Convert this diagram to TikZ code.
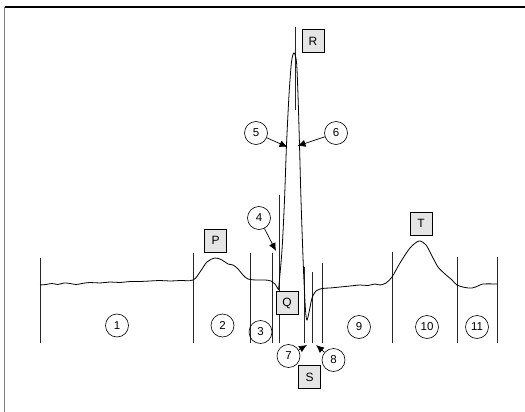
\documentclass[tikz,border=0pt]{standalone}
\usepackage{fontspec}
\setmainfont{Liberation Sans}
\usetikzlibrary{arrows.meta}
\begin{document}
\begin{tikzpicture}[x=1pt,y=-1pt,
  lbl/.style={draw=black,line width=0.6pt,fill=black!10,minimum width=22pt,minimum height=23pt,inner sep=0pt,font=\fontsize{12}{14}\selectfont},
  num/.style={draw=black,line width=0.6pt,circle,minimum size=23pt,inner sep=0pt,font=\fontsize{11.5}{13}\selectfont},
  seg/.style={line width=0.7pt,black!85},
  wave/.style={line width=0.8pt,black},
  pointer/.style={line width=0.7pt,-{Latex[length=8pt,width=7pt]}}]
\useasboundingbox (0,0) rectangle (525,412);
% frame
\draw[line width=1.4pt,black] (4.5,7) -- (525,7);
\draw[line width=1.6pt,black!50] (4.5,7) -- (4.5,412);
% vertical segment lines
\draw[seg] (40,258) -- (40,343);
\draw[seg] (193,253) -- (193,343);
\draw[seg] (250,253) -- (250,343);
\draw[seg] (272,253) -- (272,343);
\draw[seg] (279,195) -- (279,343);
\draw[seg] (295,27) -- (295,110);
\draw[seg] (304,267) -- (304,343);
\draw[seg] (312,272) -- (312,343);
\draw[seg] (322,263) -- (322,343);
\draw[seg] (392,252) -- (392,343);
\draw[seg] (457,257) -- (457,343);
\draw[seg] (497,257) -- (497,343);
% ECG trace
\draw[wave] plot[smooth,tension=0.6] coordinates {
 (40,285) (46,284.5) (52,283.5) (58,284.5) (64,283) (70,283.5) (76,284.5) (82,283.5) (90,282.5)
 (100,283) (110,282) (120,282.5) (130,281.5) (140,281.5) (150,281) (160,280.5) (170,281)
 (180,280.5) (193,280) (200,272) (207,262) (215,258) (222,260) (228,264) (233,265)
 (238,269) (243,275) (248,279) (256,280) (265,280) (271,281) (275,284) (278.5,290)};
\draw[wave] plot[smooth,tension=0.5] coordinates {
 (278.5,290) (282,250) (284.5,200) (286.5,145) (289,95) (291.5,62) (294,53) (296.5,62)
 (298,95) (299.5,145) (301,200) (303.5,270) (305.5,310) (307,320) (309.5,310) (312,298)
 (316,291) (322,288.5) (330,288) (340,287) (350,286) (360,285) (368,285.5) (375,284)
 (380,285) (386,283) (392,277) (400,263) (410,248) (419,241) (426,245) (432,256)
 (438,267) (445,274) (452,280) (457,285) (465,287.5) (472,288) (478,286) (483,284) (497,284)};
% letter labels
\node[lbl] (R) at (313,41) {R};
\node[lbl] (P) at (215.5,240.5) {P};
\node[lbl] (Q) at (287,303) {Q};
\node[lbl] (S) at (309.5,377) {S};
\node[lbl] (T) at (421,223.5) {T};
% numbered circles
\node[num] (n1) at (117,325.5) {1};
\node[num] (n2) at (222.5,325.5) {2};
\node[num] (n3) at (260.5,332) {3};
\node[num] (n4) at (259,218) {4};
\node[num] (n5) at (256,133) {5};
\node[num] (n6) at (336,133) {6};
\node[num] (n7) at (288.5,356) {7};
\node[num] (n8) at (333.5,360) {8};
\node[num] (n9) at (359,327) {9};
\node[num] (n10) at (427,327) {10};
\node[num] (n11) at (477,327) {11};
% arrow targets
\coordinate (t4) at (276,251);
\coordinate (t5) at (287.5,147);
\coordinate (t6) at (297.5,146);
\coordinate (t7) at (307,345);
\coordinate (t8) at (316,345);
\draw[pointer] (n4) -- (t4);
\draw[pointer] (n5) -- (t5);
\draw[pointer] (n6) -- (t6);
\draw[pointer] (n7) -- (t7);
\draw[pointer] (n8) -- (t8);
\end{tikzpicture}
\end{document}
